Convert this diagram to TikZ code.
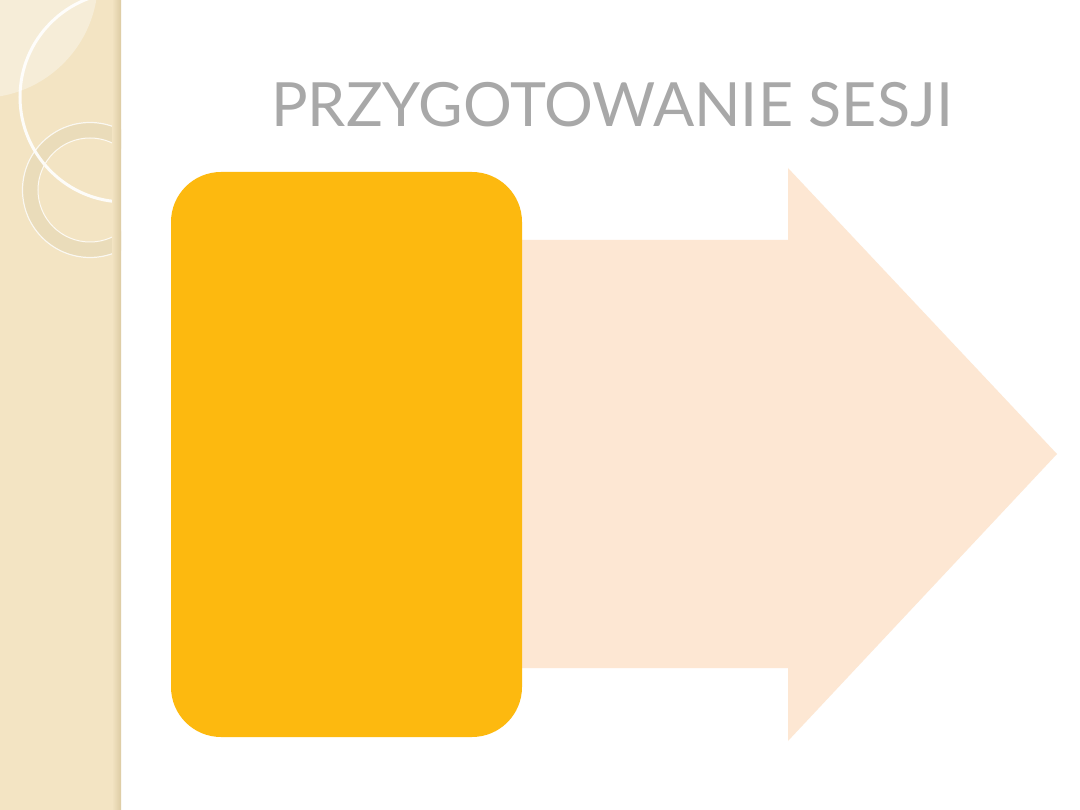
\documentclass[tikz,border=0pt]{standalone}
\usepackage{fontspec}
\setmainfont{Lato}
\definecolor{stripbg}{HTML}{F3E4C3}
\definecolor{stripedge}{HTML}{DCCBA3}
\definecolor{lightcap}{HTML}{F6EDD8}
\definecolor{ringfill}{HTML}{EADCBA}
\definecolor{titlegray}{HTML}{A8A8A8}
\definecolor{boxorange}{HTML}{FDB90F}
\definecolor{arrowpeach}{HTML}{FDE7D3}
\tikzset{
  titletext/.style={text=titlegray, font=\fontsize{61}{70}\selectfont, inner sep=0pt, anchor=center},
}
\begin{document}
\begin{tikzpicture}[x=1pt,y=-1pt]
\useasboundingbox (0,0) rectangle (1080,810);
\fill[white] (0,0) rectangle (1080,810);
% left decorative strip
\begin{scope}
\clip (0,0) rectangle (121,810);
\fill[stripbg] (0,0) rectangle (121,810);
\fill[lightcap] (-20,-20) circle (118);
\fill[ringfill, even odd rule] (90,190) circle (68) (90,190) circle (52);
\draw[white, line width=1.2pt, opacity=0.8] (90,190) circle (67.5);
\draw[white, line width=3pt, opacity=0.9] (125,97) circle (105);
\draw[white!80!stripbg, line width=1pt] (90,190) circle (52);
\shade[left color=stripbg, right color=stripedge] (112,0) rectangle (121,810);
\end{scope}
% title
\node[titletext] (title) at (612,105) {PRZYGOTOWANIE SESJI};
% arrow
\fill[arrowpeach] (500,240) -- (788,240) -- (788,168) -- (1057,454) -- (788,741) -- (788,668) -- (500,668) -- cycle;
\coordinate (arrowtip) at (1057,454);
% rounded box
\node[fill=boxorange, rounded corners=50pt, minimum width=351pt, minimum height=565pt, inner sep=0pt] (box) at (346.5,454.5) {};
\end{tikzpicture}
\end{document}
